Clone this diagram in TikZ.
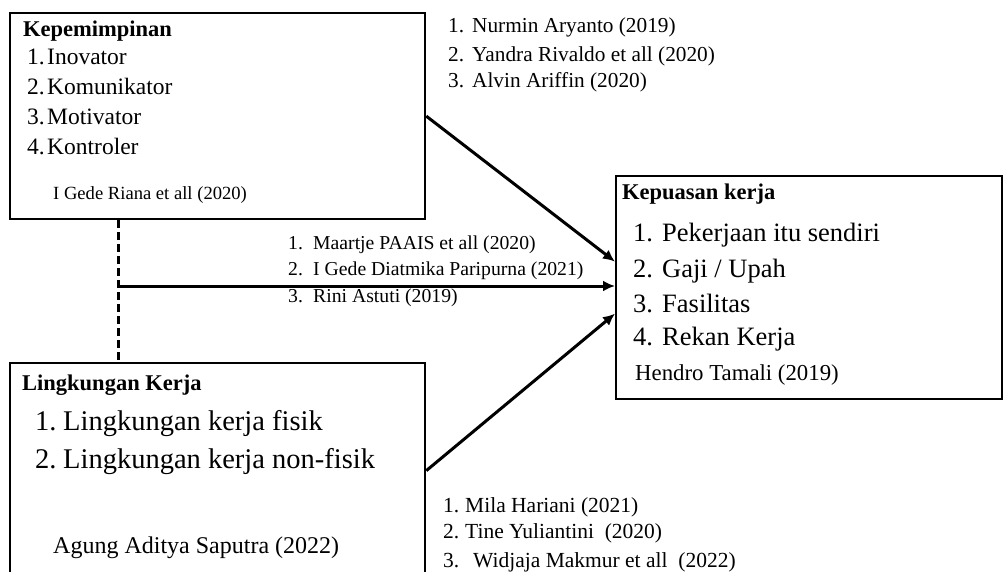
\documentclass[tikz,border=0pt]{standalone}
\usepackage{fontspec}
\setmainfont{Liberation Serif}
\usetikzlibrary{arrows.meta}
\begin{document}
\begin{tikzpicture}[x=1pt,y=-1pt,
  box/.style={draw,line width=2.3pt,inner sep=0pt,anchor=north west},
  txt/.style={anchor=base west,inner sep=0pt},
  conn/.style={line width=3pt,-{Latex[length=12pt,width=11pt]}},
  dashline/.style={line width=3pt,dash pattern=on 8pt off 4pt},
  ttl/.style={txt,font=\fontsize{22.5}{26}\selectfont\bfseries},
]
\useasboundingbox[fill=white] (0,0) rectangle (1004,572);

% boxes
\node[box,minimum width=415pt,minimum height=206pt] (k) at (9,12) {};
\node[box,minimum width=386pt,minimum height=223pt] (p) at (615,175) {};
\node[box,minimum width=415pt,minimum height=215pt] (l) at (9,362) {};

% Kepemimpinan
\node[ttl] (kt) at (23,37) {Kepemimpinan};
\begin{scope}[every node/.style={txt,font=\fontsize{23.5}{28}\selectfont}]
\node (k1) at (27,65) {\makebox[20pt][l]{1.}Inovator};
\node (k2) at (27,95) {\makebox[20pt][l]{2.}Komunikator};
\node (k3) at (27,125) {\makebox[20pt][l]{3.}Motivator};
\node (k4) at (27,155) {\makebox[20pt][l]{4.}Kontroler};
\end{scope}
\node[txt,font=\fontsize{18.6}{22}\selectfont] (kr) at (53,200) {I Gede Riana et all (2020)};

% Kepuasan kerja
\node[ttl] (pt) at (622,200) {Kepuasan kerja};
\begin{scope}[every node/.style={txt,font=\fontsize{26.5}{30}\selectfont}]
\node (p1) at (633,242) {\makebox[29pt][l]{1.}Pekerjaan itu sendiri};
\node (p2) at (633,277) {\makebox[29pt][l]{2.}Gaji / Upah};
\node (p3) at (633,312) {\makebox[29pt][l]{3.}Fasilitas};
\node (p4) at (633,345) {\makebox[29pt][l]{4.}Rekan Kerja};
\end{scope}
\node[txt,font=\fontsize{22.8}{26}\selectfont] (pr) at (635,380) {Hendro Tamali (2019)};

% Lingkungan Kerja
\node[ttl] (lt) at (22,390) {Lingkungan Kerja};
\begin{scope}[every node/.style={txt,font=\fontsize{28.5}{32}\selectfont}]
\node (l1) at (35,430) {\makebox[28pt][l]{1.}Lingkungan kerja fisik};
\node (l2) at (35,468) {\makebox[28pt][l]{2.}Lingkungan kerja non-fisik};
\end{scope}
\node[txt,font=\fontsize{24}{28}\selectfont] (lr) at (53,553) {Agung Aditya Saputra (2022)};

% reference lists
\begin{scope}[every node/.style={txt,font=\fontsize{21.3}{25}\selectfont}]
\node (a1) at (448,33) {\makebox[24pt][l]{1.}Nurmin Aryanto (2019)};
\node (a2) at (448,62) {\makebox[24pt][l]{2.}Yandra Rivaldo et all (2020)};
\node (a3) at (448,88) {\makebox[24pt][l]{3.}Alvin Ariffin (2020)};
\end{scope}
\begin{scope}[every node/.style={txt,font=\fontsize{19.7}{23}\selectfont}]
\node (b1) at (288,250) {\makebox[25pt][l]{1.}Maartje PAAIS et all (2020)};
\node (b2) at (288,275) {\makebox[25pt][l]{2.}I Gede Diatmika Paripurna (2021)};
\node (b3) at (288,302) {\makebox[25pt][l]{3.}Rini Astuti (2019)};
\end{scope}
\begin{scope}[every node/.style={txt,font=\fontsize{21.5}{25}\selectfont}]
\node (c1) at (443,512) {\makebox[22pt][l]{1.}Mila Hariani (2021)};
\node (c2) at (443,538) {\makebox[22pt][l]{2.}Tine Yuliantini\ \ (2020)};
\node (c3) at (443,567) {\makebox[30pt][l]{3.}Widjaja Makmur et all\ \ (2022)};
\end{scope}

% connectors
\coordinate (j) at (118,286);
\draw[dashline] (k.south -| j) -- (l.north -| j);
\draw[conn] (k.east) -- ([yshift=26pt]p.west);
\draw[conn] (j) -- (j -| p.west);
\draw[conn] (l.east) -- ([yshift=-26pt]p.west);
\end{tikzpicture}
\end{document}
